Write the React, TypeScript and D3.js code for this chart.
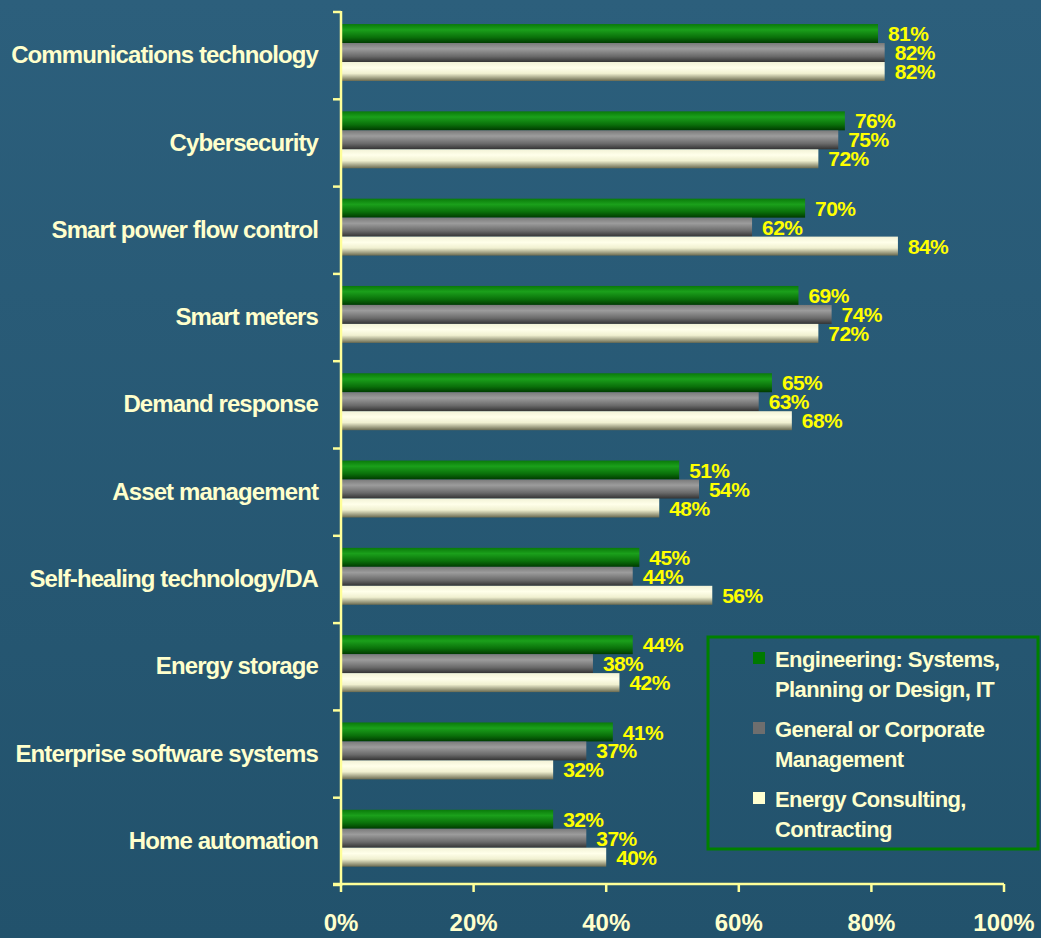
import React from "react";
import * as d3 from "d3";

const categories = [
  "Communications technology",
  "Cybersecurity",
  "Smart power flow control",
  "Smart meters",
  "Demand response",
  "Asset management",
  "Self-healing technology/DA",
  "Energy storage",
  "Enterprise software systems",
  "Home automation",
];
const seriesNames = [
  ["Engineering: Systems,", "Planning or Design, IT"],
  ["General or Corporate", "Management"],
  ["Energy Consulting,", "Contracting"],
];
const engineering = [81, 76, 70, 69, 65, 51, 45, 44, 41, 32];
const management = [82, 75, 62, 74, 63, 54, 44, 38, 37, 37];
const consulting = [82, 72, 84, 72, 68, 48, 56, 42, 32, 40];
const xTicks = [0, 20, 40, 60, 80, 100];

const W = 1041;
const H = 938;

export default function App() {
  const x = d3.scaleLinear().domain([0, 100]).range([341, 1004]);
  const y = d3.scaleBand<string>().domain(categories).range([11, 884]).paddingInner(0).paddingOuter(0);
  const inner = d3
    .scaleBand<number>()
    .domain([0, 1, 2])
    .range([0, y.bandwidth()])
    .paddingInner(0)
    .paddingOuter(0.8)
    .align(0.43);
  const series = [engineering, management, consulting];
  const grads = ["gGreen", "gGray", "gWhite"];
  const legendFill = ["#007a00", "#6e6e6e", "#ffffd0"];
  const cream = "#ffffcc";
  const axisCol = "#ffff99";
  const font = "'Liberation Sans', Arial, sans-serif";

  return (
    <svg width={W} height={H} style={{ position: "absolute", left: 0, top: 0 }}>
      <defs>
        <linearGradient id="bg" x1="0" y1="0" x2="0" y2="1">
          <stop offset="0" stopColor="#2c5f7c" />
          <stop offset="1" stopColor="#22526c" />
        </linearGradient>
        <linearGradient id="gGreen" x1="0" y1="0" x2="0" y2="1">
          <stop offset="0" stopColor="#0a7a0a" />
          <stop offset="0.3" stopColor="#1ba01b" />
          <stop offset="0.7" stopColor="#0a700a" />
          <stop offset="1" stopColor="#003a00" />
        </linearGradient>
        <linearGradient id="gGray" x1="0" y1="0" x2="0" y2="1">
          <stop offset="0" stopColor="#7a7a7a" />
          <stop offset="0.3" stopColor="#9c9c9c" />
          <stop offset="0.7" stopColor="#6a6a6a" />
          <stop offset="1" stopColor="#333333" />
        </linearGradient>
        <linearGradient id="gWhite" x1="0" y1="0" x2="0" y2="1">
          <stop offset="0" stopColor="#f2f2d6" />
          <stop offset="0.3" stopColor="#ffffea" />
          <stop offset="0.6" stopColor="#f0f0d0" />
          <stop offset="1" stopColor="#6a6a50" />
        </linearGradient>
      </defs>
      <rect x={0} y={0} width={W} height={H} fill="url(#bg)" />

      {/* bars */}
      {categories.map((c, i) => (
        <g key={c}>
          {series.map((s, k) => {
            const by = (y(c) ?? 0) + (inner(k) ?? 0);
            const bh = inner.bandwidth();
            return (
              <rect key={k} x={x(0)} y={by} width={x(s[i]) - x(0)} height={bh} fill={`url(#${grads[k]})`} />
            );
          })}
        </g>
      ))}

      {/* value labels */}
      {categories.map((c, i) => (
        <g key={c + "l"}>
          {series.map((s, k) => {
            const by = (y(c) ?? 0) + (inner(k) ?? 0) + inner.bandwidth() / 2;
            return (
              <text key={k} x={x(s[i]) + 10} y={by} dy="0.36em" fill="#ffff00" fontFamily={font} fontWeight="bold" fontSize={21} letterSpacing={-0.6}>
                {s[i]}%
              </text>
            );
          })}
        </g>
      ))}

      {/* y axis */}
      <line x1={x(0)} x2={x(0)} y1={11} y2={886} stroke={axisCol} strokeWidth={2.5} />
      {[...categories.map((c) => y(c) ?? 0), 884].map((v, i) => (
        <line key={i} x1={x(0) - 8} x2={x(0)} y1={v + 1} y2={v + 1} stroke={axisCol} strokeWidth={2.5} />
      ))}
      {categories.map((c) => (
        <text key={c + "c"} x={318} y={(y(c) ?? 0) + y.bandwidth() / 2} dy="0.36em" textAnchor="end" fill={cream} fontFamily={font} fontWeight="bold" fontSize={24} letterSpacing={-0.9}>
          {c}
        </text>
      ))}

      {/* x axis */}
      <line x1={x(0) - 8} x2={x(100)} y1={884} y2={884} stroke={axisCol} strokeWidth={2.5} />
      {xTicks.map((t) => (
        <g key={t}>
          <line x1={x(t)} x2={x(t)} y1={884} y2={892} stroke={axisCol} strokeWidth={2.5} />
          <text x={x(t)} y={931} textAnchor="middle" fill={cream} fontFamily={font} fontWeight="bold" fontSize={24} letterSpacing={0}>
            {t}%
          </text>
        </g>
      ))}

      {/* legend */}
      <rect x={708} y={637} width={330} height={212} fill="none" stroke="#008000" strokeWidth={3} />
      {seriesNames.map((lines, k) => {
        const top = 659 + k * 70;
        return (
          <g key={k}>
            <rect x={753} y={top - 7} width={12} height={12} fill={legendFill[k]} />
            {lines.map((ln, j) => (
              <text key={j} x={775} y={top + j * 30} dy="0.36em" fill={cream} fontFamily={font} fontWeight="bold" fontSize={22} letterSpacing={-0.6}>
                {ln}
              </text>
            ))}
          </g>
        );
      })}
    </svg>
  );
}
